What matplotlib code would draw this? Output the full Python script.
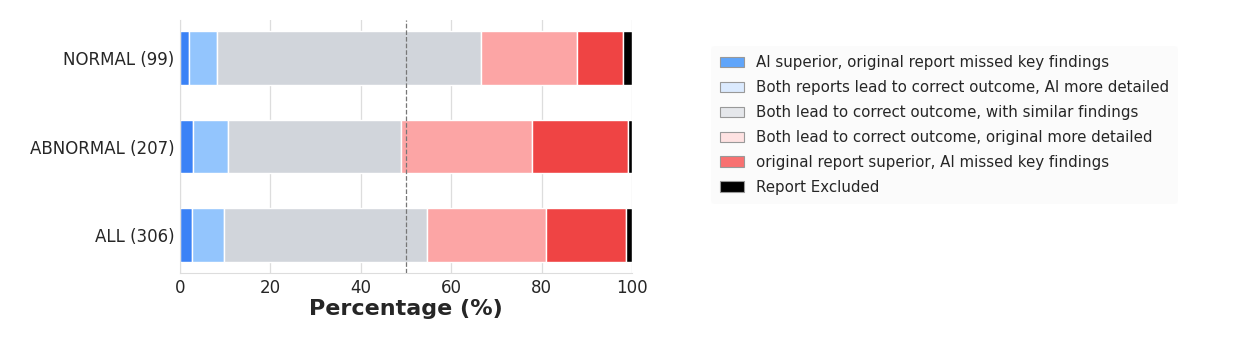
import numpy as np
import matplotlib
matplotlib.use("Agg")
from matplotlib import pyplot as plt
from matplotlib.patches import Patch

groups = ["NORMAL (99)", "ABNORMAL (207)", "ALL (306)"]
totals = [99, 207, 306]

categories = [
    "AI superior, original report missed key findings",
    "Both reports lead to correct outcome, AI more detailed",
    "Both lead to correct outcome, with similar findings",
    "Both lead to correct outcome, original more detailed",
    "original report superior, AI missed key findings",
    "Report Excluded",
]
# counts per group, in category order
counts = {
    "NORMAL (99)": [2, 6, 58, 21, 10, 2],
    "ABNORMAL (207)": [6, 16, 79, 60, 44, 2],
    "ALL (306)": [8, 22, 137, 81, 54, 4],
}

bar_colors = ["#3b82f6", "#93c5fd", "#d1d5db", "#fca5a5", "#ef4444", "#000000"]
legend_colors = ["#60a5fa", "#dbeafe", "#e5e7eb", "#fee2e2", "#f87171", "#000000"]

plt.rcParams["font.family"] = ["DejaVu Sans"]
text_col = "#262626"

fig = plt.figure(figsize=(12.5, 3.38), dpi=100)
ax = fig.add_axes([0.144, 0.192, 0.3616, 0.749])

y = np.arange(len(groups))
left = np.zeros(len(groups))
for i, cat in enumerate(categories):
    pct = np.array([counts[g][i] / t * 100 for g, t in zip(groups, totals)])
    ax.barh(y, pct, left=left, height=0.6, color=bar_colors[i],
            edgecolor="white", linewidth=1, zorder=2)
    left += pct

ax.axvline(50, color="#777777", linestyle="--", linewidth=0.9, zorder=3)

ax.set_xlim(0, 100)
ax.set_yticks(y)
ax.set_yticklabels(groups, fontsize=12, color=text_col)
ax.invert_yaxis()
ax.set_xticks([0, 20, 40, 60, 80, 100])
ax.tick_params(axis="x", labelsize=12, colors=text_col, length=0, pad=4)
ax.tick_params(axis="y", length=0, pad=4)
ax.set_xlabel("Percentage (%)", fontsize=16, fontweight="bold", color=text_col, labelpad=2)

ax.grid(axis="x", color="#dddddd", linewidth=0.9, zorder=0)
ax.set_axisbelow(True)
for side in ["top", "right"]:
    ax.spines[side].set_visible(False)
for side in ["left", "bottom"]:
    ax.spines[side].set_color("#dddddd")

handles = [Patch(facecolor=c, edgecolor="#999999", linewidth=0.8) for c in legend_colors]
leg = fig.legend(handles, categories, loc="upper left", bbox_to_anchor=(0.5625, 0.885),
                 fontsize=10.8, frameon=True, handlelength=1.6, handleheight=0.7,
                 handletextpad=0.8, labelspacing=0.66, borderpad=0.6)
leg.get_frame().set_facecolor("#fbfbfb")
leg.get_frame().set_edgecolor("none")
for t in leg.get_texts():
    t.set_color(text_col)

fig.savefig("out.png", dpi=100)
